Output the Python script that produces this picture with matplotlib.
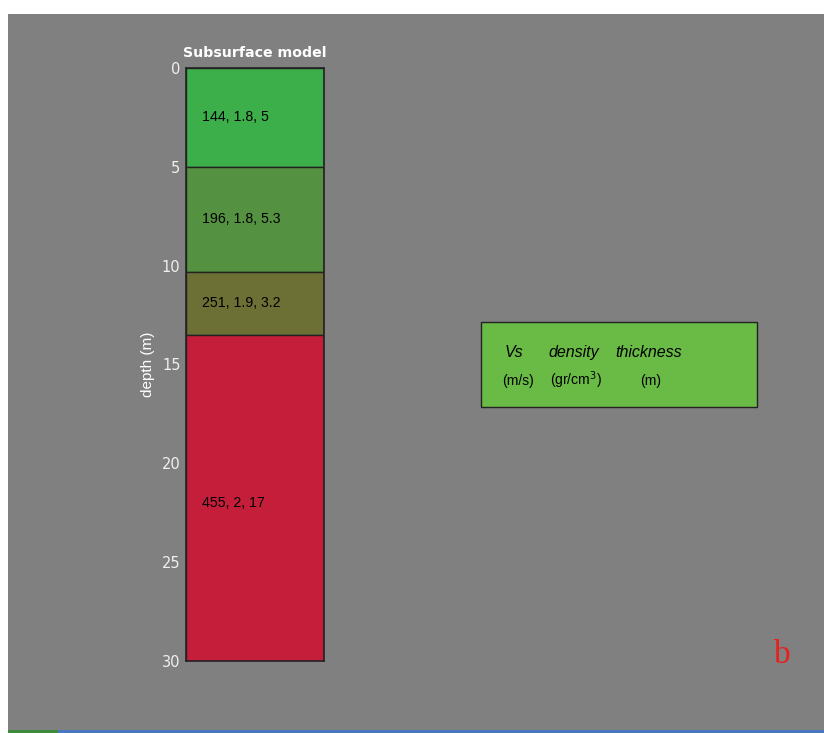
import matplotlib.pyplot as plt
from matplotlib.patches import Rectangle

# layer data
vs = [144, 196, 251, 455]
density = [1.8, 1.8, 1.9, 2]
thickness = [5, 5.3, 3.2, 17]
layer_colors = ['#3CAF4B', '#549140', '#6C7034', '#C41E3A']
max_depth = 30

W, H = 824, 733
fig = plt.figure(figsize=(W / 100, H / 100), dpi=100, facecolor='white')

# gray panel and bottom strip
fig.patches.append(Rectangle((8 / W, 3 / H), 1 - 8 / W, (H - 14 - 3) / H,
                             transform=fig.transFigure, facecolor='#808080',
                             edgecolor='none', zorder=-2))
fig.patches.append(Rectangle((8 / W, 0), 50 / W, 3 / H, transform=fig.transFigure,
                             facecolor='#3C8C3C', edgecolor='none', zorder=-2))
fig.patches.append(Rectangle((58 / W, 0), 1 - 58 / W, 3 / H, transform=fig.transFigure,
                             facecolor='#4A78C0', edgecolor='none', zorder=-2))

ax = fig.add_axes([186 / W, 1 - 661 / H, (324 - 186) / W, (661 - 68) / H])
ax.set_facecolor('none')
ax.set_zorder(2)

top = 0
for v, d, t, c in zip(vs, density, thickness, layer_colors):
    ax.bar(0.5, t, bottom=top, width=1, color=c, edgecolor='#222222', linewidth=1)
    ax.text(0.115, top + t / 2, f'{v}, {d}, {t}', fontsize=10.2, color='black',
            va='center', ha='left', family='Liberation Sans')
    top += t

ax.set_xlim(0, 1)
ax.set_ylim(max_depth, 0)
ax.set_xticks([])
ax.set_yticks([0, 5, 10, 15, 20, 25, 30])
ax.tick_params(axis='y', length=0, pad=4, labelsize=10.5, labelcolor='#F0F0F0')
for s in ax.spines.values():
    s.set_color('#222222')
    s.set_linewidth(1.2)
ax.set_ylabel('depth (m)', color='white', fontsize=11, labelpad=5,
              family='Liberation Sans')
ax.set_title('Subsurface model', color='white', fontsize=10.2, fontweight='bold',
             pad=8)

# legend box
fig.patches.append(Rectangle((481 / W, 1 - 407 / H), (757 - 481) / W, (407 - 322) / H,
                             transform=fig.transFigure, facecolor='#69BB45',
                             edgecolor='#222222', linewidth=1, zorder=1))
y1, y2 = 1 - 357 / H, 1 - 385 / H
fig.text(505 / W, y1, 'Vs', fontsize=11.5, style='italic', va='baseline',
         family='Liberation Sans')
fig.text(548 / W, y1, 'density', fontsize=11.5, style='italic', va='baseline',
         family='Liberation Sans')
fig.text(615 / W, y1, 'thickness', fontsize=11.5, style='italic', va='baseline',
         family='Liberation Sans')
fig.text(502 / W, y2, '(m/s)', fontsize=10, va='baseline', family='Liberation Sans')
fig.text(550 / W, y2, r'(gr/cm$^3$)', fontsize=10, va='baseline',
         family='Liberation Sans')
fig.text(640 / W, y2, '(m)', fontsize=10, va='baseline', family='Liberation Sans')

fig.text(782 / W, 1 - 655 / H, 'b', fontsize=24, color='#E8201E', ha='center',
         va='center', family='Liberation Serif')

fig.savefig('out.png', dpi=100, facecolor=fig.get_facecolor())
